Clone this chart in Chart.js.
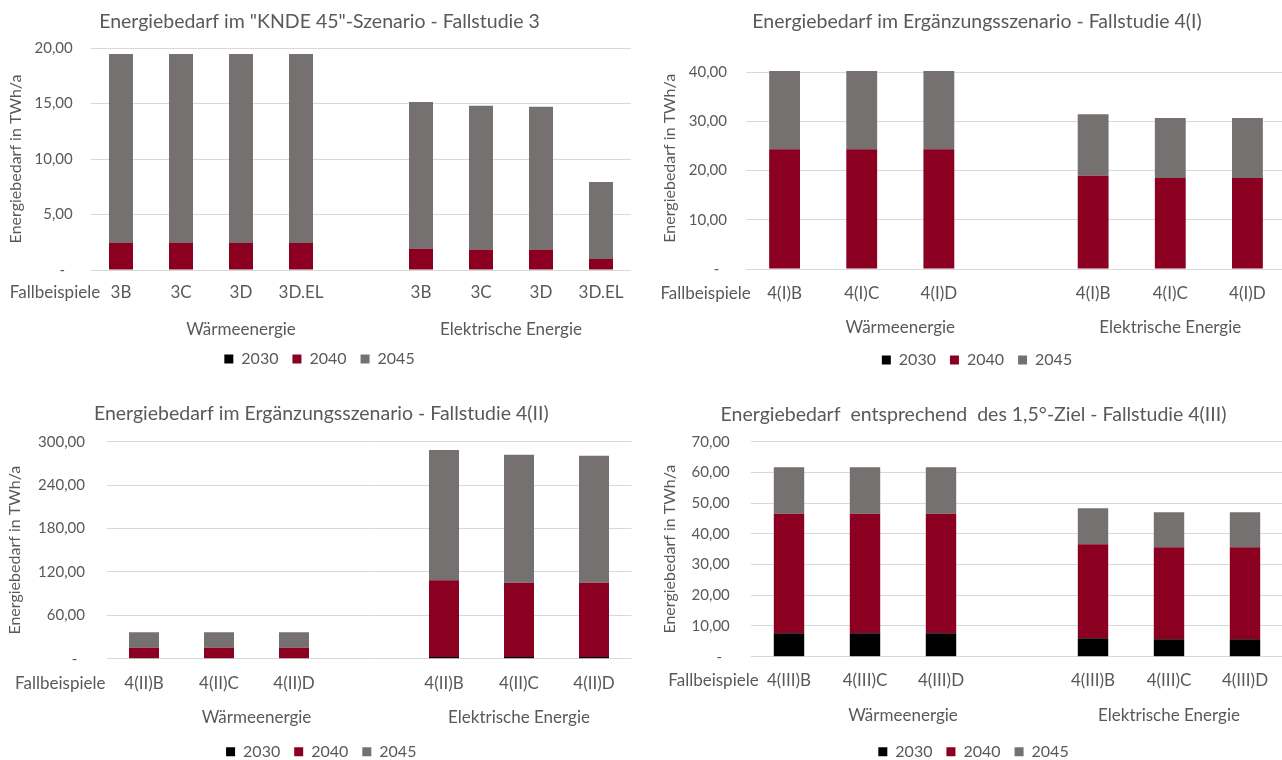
<!DOCTYPE html>
<html lang="de">
<head>
<meta charset="UTF-8">
<title>Energiebedarf - Fallstudien 3 und 4</title>
<script src="https://cdn.jsdelivr.net/npm/chart.js"></script>
<style>
    html, body {
        margin: 0;
        padding: 0;
        background: #ffffff;
        width: 1282px;
        height: 760px;
        overflow: hidden;
        position: relative;
    }
    canvas { position: absolute; }
    #c1 { left: 0; top: 0; }
    #c2 { left: 640px; top: 0; }
    #c3 { left: 0; top: 390px; }
    #c4 { left: 640px; top: 390px; }
</style>
</head>
<body>
<canvas id="c1" width="640" height="390"></canvas>
<canvas id="c2" width="672" height="390"></canvas>
<canvas id="c3" width="640" height="390"></canvas>
<canvas id="c4" width="672" height="390"></canvas>
<script>
// Jahre (Serien) und Gruppen
var jahre = ['2030', '2040', '2045'];
var gruppen = ['Wärmeenergie', 'Elektrische Energie'];

// Fallstudie 3 ("KNDE 45") - leere Kategorie trennt die Gruppen
var fs3Faelle = ['3B', '3C', '3D', '3D.EL', '', '3B', '3C', '3D', '3D.EL'];
var fs3_2030 = [0, 0, 0, 0, null, 0, 0, 0, 0];
var fs3_2040 = [2.43, 2.43, 2.43, 2.43, null, 1.92, 1.83, 1.83, 0.99];
var fs3_2045 = [17.03, 17.03, 17.03, 17.03, null, 13.22, 12.97, 12.88, 6.94];

// Fallstudie 4(I)
var fs4iFaelle = ['4(I)B', '4(I)C', '4(I)D', '', '4(I)B', '4(I)C', '4(I)D'];
var fs4i_2030 = [0, 0, 0, null, 0, 0, 0];
var fs4i_2040 = [24.33, 24.33, 24.33, null, 18.96, 18.5, 18.5];
var fs4i_2045 = [15.91, 15.91, 15.91, null, 12.48, 12.19, 12.19];

// Fallstudie 4(II)
var fs4iiFaelle = ['4(II)B', '4(II)C', '4(II)D', '', '4(II)B', '4(II)C', '4(II)D'];
var fs4ii_2030 = [1, 1, 1, null, 2.5, 2.5, 2.5];
var fs4ii_2040 = [14.2, 14.2, 14.2, null, 105.9, 102.6, 102.6];
var fs4ii_2045 = [21.3, 21.3, 21.3, null, 180.1, 176.9, 175.6];

// Fallstudie 4(III) - 1,5°-Ziel
var fs4iiiFaelle = ['4(III)B', '4(III)C', '4(III)D', '', '4(III)B', '4(III)C', '4(III)D'];
var fs4iii_2030 = [7.6, 7.6, 7.6, null, 6.0, 5.7, 5.7];
var fs4iii_2040 = [38.96, 38.96, 38.96, null, 30.6, 29.9, 29.9];
var fs4iii_2045 = [15.11, 15.11, 15.11, null, 11.7, 11.4, 11.4];

var schrift = 'Lato, "Open Sans", sans-serif';
var grau = '#595959';

// Fallbeispiele + Gruppenbeschriftung unter der Achse
var gruppenPlugin = {
    id: 'gruppen',
    afterDraw: function(chart, args, opts) {
        var ctx = chart.ctx;
        var xs = chart.scales.x;
        var n = chart.data.labels.length;
        var gap = chart.data.labels.indexOf('');
        ctx.save();
        ctx.fillStyle = grau;
        ctx.font = '17px ' + schrift;
        ctx.textAlign = 'center';
        ctx.textBaseline = 'middle';
        ctx.fillText('Fallbeispiele', opts.fallX, opts.fallY);
        var xW = (xs.getPixelForTick(0) + xs.getPixelForTick(gap)) / 2;
        var xE = (xs.getPixelForTick(gap + 1) + xs.getPixelForTick(n - 1)) / 2;
        ctx.fillText(gruppen[0], xW, opts.gruppeY);
        ctx.fillText(gruppen[1], xE, opts.gruppeY);
        ctx.restore();
    }
};

function baueChart(id, titel, faelle, d2030, d2040, d2045, yMax, yStep, lay) {
    var ctx = document.getElementById(id).getContext('2d');
    return new Chart(ctx, {
        type: 'bar',
        data: {
            labels: faelle,
            datasets: [
                { label: jahre[0], data: d2030, backgroundColor: '#000000' },
                { label: jahre[1], data: d2040, backgroundColor: '#8B0020' },
                { label: jahre[2], data: d2045, backgroundColor: '#767171' }
            ]
        },
        options: {
            responsive: false,
            animation: false,
            barPercentage: 0.4,
            categoryPercentage: 1.0,
            layout: { padding: { left: lay.padL, right: lay.right, top: 0, bottom: lay.bottom } },
            plugins: {
                title: {
                    display: true,
                    text: titel,
                    color: grau,
                    font: { family: schrift, size: 19.5, weight: 'normal' },
                    padding: { top: lay.titleTop, bottom: lay.titleBottom }
                },
                legend: {
                    position: 'bottom',
                    labels: {
                        boxWidth: 9,
                        boxHeight: 9,
                        padding: 14,
                        color: grau,
                        font: { family: schrift, size: 16 }
                    }
                },
                tooltip: { enabled: false },
                gruppen: { fallX: lay.fallX, fallY: lay.fallY, gruppeY: lay.gruppeY }
            },
            scales: {
                x: {
                    stacked: true,
                    grid: { display: false, drawTicks: false },
                    border: { display: false },
                    ticks: {
                        autoSkip: false,
                        maxRotation: 0,
                        padding: lay.xPad,
                        color: grau,
                        font: { family: schrift, size: 17 }
                    },
                    afterFit: function(s) { s.height = lay.xHeight; }
                },
                y: {
                    stacked: true,
                    min: 0,
                    max: yMax,
                    border: { display: false },
                    grid: { color: '#D9D9D9', drawTicks: false },
                    ticks: {
                        stepSize: yStep,
                        includeBounds: false,
                        padding: lay.yPad,
                        color: grau,
                        font: { family: schrift, size: 15 },
                        callback: function(v) {
                            return v === 0 ? '-  ' : v.toFixed(2).replace('.', ',');
                        }
                    },
                    title: {
                        display: true,
                        text: 'Energiebedarf in TWh/a',
                        color: grau,
                        font: { family: schrift, size: 16 },
                        padding: { top: lay.yTitle - lay.padL, bottom: 0 }
                    },
                    afterFit: function(s) { s.width = lay.left - lay.padL; }
                }
            }
        },
        plugins: [gruppenPlugin]
    });
}

baueChart('c1', 'Energiebedarf im "KNDE 45"-Szenario - Fallstudie 3',
    fs3Faelle, fs3_2030, fs3_2040, fs3_2045, 20, 5,
    { padL: 8, left: 91, right: 9, titleTop: 10.3, titleBottom: 14.3, xHeight: 67, xPad: 12.8, bottom: 13,
      yPad: 18.3, yTitle: 6.1, fallX: 55, fallY: 293, gruppeY: 330 });

baueChart('c2', 'Energiebedarf im Ergänzungsszenario - Fallstudie 4(I)',
    fs4iFaelle, fs4i_2030, fs4i_2040, fs4i_2045, 45, 10,
    { padL: 28, left: 106, right: 26, titleTop: 10.3, titleBottom: 13.9, xHeight: 69, xPad: 14.1, bottom: 12,
      yPad: 19, yTitle: 20.1, fallX: 65.6, fallY: 293.3, gruppeY: 328 });

baueChart('c3', 'Energiebedarf im Ergänzungsszenario - Fallstudie 4(II)',
    fs4iiFaelle, fs4ii_2030, fs4ii_2040, fs4ii_2045, 300, 60,
    { padL: 11, left: 106.5, right: 8.5, titleTop: 12.3, titleBottom: 16, xHeight: 71, xPad: 14.4, bottom: 10.3,
      yPad: 21.5, yTitle: 5.6, fallX: 60.3, fallY: 293.3, gruppeY: 327.7 });

baueChart('c4', 'Energiebedarf  entsprechend  des 1,5°-Ziel - Fallstudie 4(III)',
    fs4iiiFaelle, fs4iii_2030, fs4iii_2040, fs4iii_2045, 70, 10,
    { padL: 24, left: 111, right: 29, titleTop: 13.3, titleBottom: 15, xHeight: 73, xPad: 14.1, bottom: 10.3,
      yPad: 21.2, yTitle: 20.1, fallX: 73.5, fallY: 291, gruppeY: 326 });
</script>
</body>
</html>
